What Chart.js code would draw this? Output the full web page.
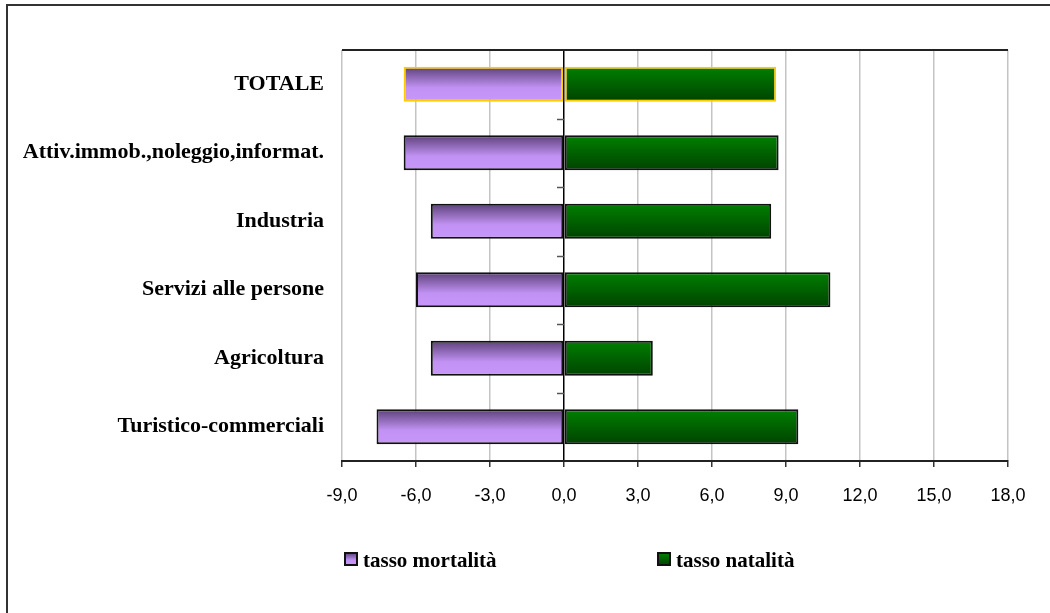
<!DOCTYPE html>
<html>
<head>
<meta charset="utf-8">
<script src="https://cdn.jsdelivr.net/npm/chart.js@4.4.1/dist/chart.umd.min.js"></script>
<style>
  html, body { margin: 0; padding: 0; background: #fff; }
  #wrap { position: relative; width: 1050px; height: 613px; }
  canvas { display: block; }
</style>
</head>
<body>
<div id="wrap"><canvas id="c" width="1050" height="613"></canvas></div>
<script>
// Sectors, top to bottom
const categories = [
  'TOTALE',
  'Attiv.immob.,noleggio,informat.',
  'Industria',
  'Servizi alle persone',
  'Agricoltura',
  'Turistico-commerciali'
];
// Death rate (drawn to the left of zero) and birth rate, per sector
const tassoMortalita = [-6.5, -6.5, -5.4, -6.0, -5.4, -7.6];
const tassoNatalita  = [8.6, 8.7, 8.4, 10.8, 3.6, 9.5];
const seriesNames = ['tasso mortalità', 'tasso natalità'];
// Horizontal axis ticks
const xTicks = [-9, -6, -3, 0, 3, 6, 9, 12, 15, 18];

const SERIF_BOLD = 'bold 21px "Liberation Serif", "Times New Roman", serif';

function purpleGradient(ctx, y0, y1) {
  const g = ctx.createLinearGradient(0, y0, 0, y1);
  g.addColorStop(0, '#5c4079');
  g.addColorStop(0.6, '#c192f3');
  g.addColorStop(1, '#c896fa');
  return g;
}
function greenGradient(ctx, y0, y1) {
  const g = ctx.createLinearGradient(0, y0, 0, y1);
  g.addColorStop(0, '#008000');
  g.addColorStop(1, '#004300');
  return g;
}

// Vertical gradient fill for each bar
const barGradients = {
  id: 'barGradients',
  beforeDatasetsDraw(chart) {
    const ctx = chart.ctx;
    chart.data.datasets.forEach((ds, di) => {
      const meta = chart.getDatasetMeta(di);
      meta.data.forEach((el) => {
        const h = el.height;
        const y0 = el.y - h / 2, y1 = el.y + h / 2;
        const fill = di === 0 ? purpleGradient(ctx, y0, y1) : greenGradient(ctx, y0, y1);
        el.options = Object.assign({}, el.options, { backgroundColor: fill });
      });
    });
  }
};

// Frame, plot top edge, category ticks on the zero line and the legend
const decorations = {
  id: 'decorations',
  beforeDraw(chart) {
    const ctx = chart.ctx;
    ctx.save();
    ctx.fillStyle = '#fff';
    ctx.fillRect(0, 0, chart.width, chart.height);
    ctx.strokeStyle = '#333';
    ctx.lineWidth = 2;
    ctx.beginPath();
    ctx.moveTo(7, chart.height);
    ctx.lineTo(7, 5);
    ctx.lineTo(chart.width, 5);
    ctx.stroke();
    ctx.restore();
  },
  afterDraw(chart) {
    const ctx = chart.ctx;
    const a = chart.chartArea;
    const xs = chart.scales.x;
    const x0 = xs.getPixelForValue(0);
    ctx.save();
    // top edge of plot
    ctx.strokeStyle = '#222';
    ctx.lineWidth = 2;
    ctx.beginPath();
    ctx.moveTo(a.left, a.top);
    ctx.lineTo(a.right, a.top);
    ctx.stroke();
    // category dividers as ticks on the zero line
    const n = categories.length;
    const band = (a.bottom - a.top) / n;
    ctx.strokeStyle = '#555';
    ctx.lineWidth = 1.5;
    for (let i = 1; i < n; i++) {
      const y = Math.round(a.top + i * band) + 0.5;
      ctx.beginPath();
      ctx.moveTo(x0 - 7, y);
      ctx.lineTo(x0, y);
      ctx.stroke();
    }
    // legend
    const items = [
      { x: 345, label: seriesNames[0], grad: purpleGradient },
      { x: 658, label: seriesNames[1], grad: greenGradient }
    ];
    ctx.font = SERIF_BOLD;
    ctx.textBaseline = 'alphabetic';
    ctx.textAlign = 'left';
    items.forEach((it) => {
      const by = 553, bs = 12;
      ctx.fillStyle = it.grad(ctx, by, by + bs);
      ctx.fillRect(it.x, by, bs, bs);
      ctx.strokeStyle = '#111';
      ctx.lineWidth = 2;
      ctx.strokeRect(it.x, by, bs, bs);
      ctx.fillStyle = '#000';
      ctx.fillText(it.label, it.x + 18, 567);
    });
    ctx.restore();
  }
};

new Chart(document.getElementById('c'), {
  type: 'bar',
  data: {
    labels: categories,
    datasets: [
      {
        label: seriesNames[0],
        data: tassoMortalita,
        backgroundColor: '#c192f3',
        borderColor: categories.map((c, i) => i === 0 ? '#ffcc00' : '#111'),
        borderWidth: 2,
        borderSkipped: false
      },
      {
        label: seriesNames[1],
        data: tassoNatalita,
        backgroundColor: '#006000',
        borderColor: categories.map((c, i) => i === 0 ? '#ffcc00' : '#111'),
        borderWidth: 2,
        borderSkipped: false
      }
    ]
  },
  options: {
    indexAxis: 'y',
    responsive: false,
    animation: false,
    devicePixelRatio: 1,
    categoryPercentage: 1,
    barPercentage: 0.51,
    layout: { padding: { left: 0, top: 50, right: 42, bottom: 0 } },
    plugins: {
      legend: { display: false },
      tooltip: { enabled: false }
    },
    scales: {
      x: {
        stacked: true,
        min: -9,
        max: 18,
        afterBuildTicks(scale) {
          scale.ticks = xTicks.map((v) => ({ value: v }));
        },
        afterFit(scale) { scale.height = 152; },
        ticks: {
          padding: 18,
          color: '#000',
          font: { family: '"Liberation Sans", Arial, sans-serif', size: 18 },
          callback: (v) => Number(v).toFixed(1).replace('.', ',')
        },
        grid: {
          color: (c) => (c.tick && c.tick.value === 0) ? '#000' : '#c4c4c4',
          lineWidth: 1.5,
          tickColor: '#333',
          tickLength: 6
        },
        border: { color: '#222', width: 2 }
      },
      y: {
        stacked: true,
        afterFit(scale) { scale.width = 342; },
        ticks: {
          padding: 18,
          color: '#000',
          font: { family: '"Liberation Serif", "Times New Roman", serif', size: 22, weight: 'bold' }
        },
        grid: { display: false, drawTicks: false },
        border: { display: false }
      }
    }
  },
  plugins: [barGradients, decorations]
});
</script>
</body>
</html>
